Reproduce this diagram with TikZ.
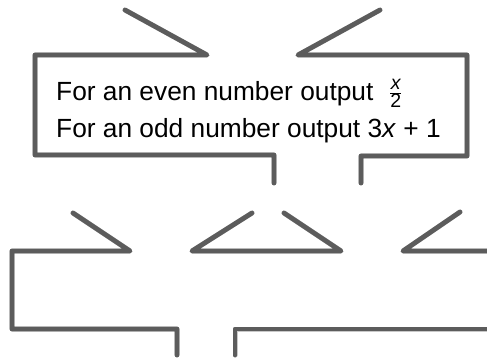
\documentclass[tikz,border=0pt]{standalone}
\usepackage{fontspec}
\setmainfont{Liberation Sans}
\definecolor{linegrey}{RGB}{92,92,92}
\definecolor{shadowgrey}{RGB}{200,200,200}
\tikzset{
  bracket/.style={draw=linegrey, line width=4.8pt, line join=round, line cap=round},
  bshadow/.style={draw=shadowgrey, line width=5pt, line join=round, line cap=round},
  label/.style={anchor=base west, inner sep=0pt, font=\fontsize{26.3}{30}\selectfont},
}
\newcommand{\smallfr}[1]{\mbox{\fontsize{19.5}{19.5}\selectfont #1}}
\begin{document}
\begin{tikzpicture}[x=1pt,y=-1pt]
\useasboundingbox (0,0) rectangle (487,358);
% named coordinates
\coordinate (a1) at (125,10);  \coordinate (a2) at (207,55);  \coordinate (a3) at (35,55);
\coordinate (a4) at (35,155);  \coordinate (a5) at (274,155); \coordinate (a6) at (274,183);
\coordinate (b1) at (380,10);  \coordinate (b2) at (298,55);  \coordinate (b3) at (467,55);
\coordinate (b4) at (467,156); \coordinate (b5) at (361,156); \coordinate (b6) at (361,183);
\coordinate (c1) at (73,213);  \coordinate (c2) at (130,251); \coordinate (c3) at (12,251);
\coordinate (c4) at (12,329);  \coordinate (c5) at (177,329); \coordinate (c6) at (177,355);
\coordinate (d1) at (252,213); \coordinate (d2) at (192,251); \coordinate (d3) at (341,251);
\coordinate (d4) at (284,213);
\coordinate (e1) at (460,212); \coordinate (e2) at (403,251); \coordinate (e3) at (492,251);
\coordinate (f1) at (235,355); \coordinate (f2) at (235,329); \coordinate (f3) at (492,329);
% shadows
\begin{scope}[shift={(1.5,4)}]
\draw[bshadow] (a1)--(a2)--(a3)--(a4)--(a5)--(a6);
\draw[bshadow] (b1)--(b2)--(b3)--(b4)--(b5)--(b6);
\draw[bshadow] (c1)--(c2)--(c3)--(c4)--(c5)--(c6);
\draw[bshadow] (d1)--(d2)--(d3)--(d4);
\draw[bshadow] (e1)--(e2)--(e3);
\draw[bshadow] (f1)--(f2)--(f3);
\end{scope}
% brackets
\draw[bracket] (a1)--(a2)--(a3)--(a4)--(a5)--(a6);
\draw[bracket] (b1)--(b2)--(b3)--(b4)--(b5)--(b6);
\draw[bracket] (c1)--(c2)--(c3)--(c4)--(c5)--(c6);
\draw[bracket] (d1)--(d2)--(d3)--(d4);
\draw[bracket] (e1)--(e2)--(e3);
\draw[bracket] (f1)--(f2)--(f3);
% text
\node[label] (t1) at (56,101) {For an even number output\hspace{0.6em}\raisebox{2pt}{$\frac{\smallfr{\itshape x}}{\smallfr{2}}$}};
\node[label] (t2) at (56,138) {For an odd number output 3\textit{x} + 1};
\end{tikzpicture}
\end{document}
